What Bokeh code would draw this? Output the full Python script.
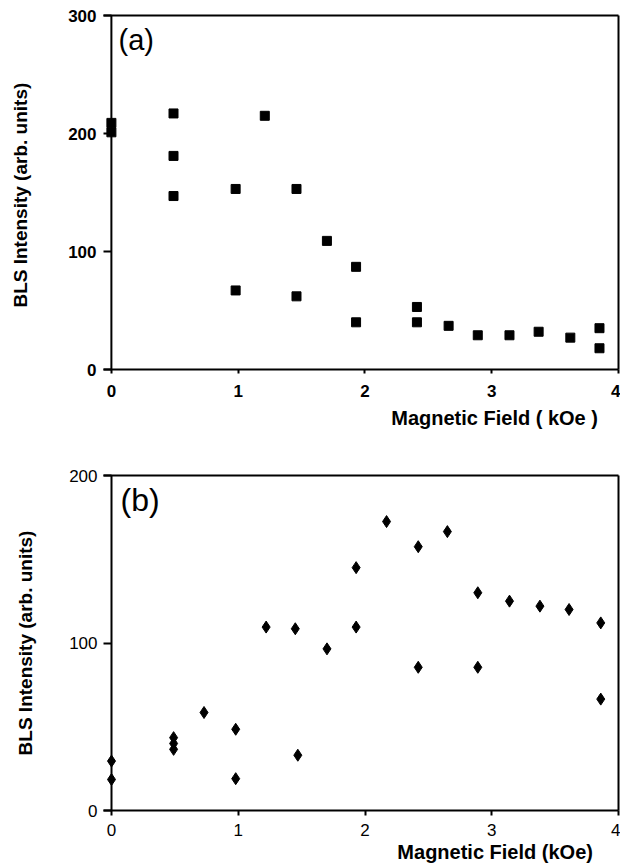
from bokeh.plotting import figure
from bokeh.models import FixedTicker, Label, Range1d, LinearAxis, Title, Span
from bokeh.layouts import column
from bokeh.embed import file_html
from bokeh.resources import INLINE

# ---------------- data ----------------
# Panel (a): BLS intensity vs magnetic field (squares)
field_a = [0.0, 0.0, 0.49, 0.49, 0.49, 0.98, 0.98, 1.21, 1.46, 1.46, 1.70,
           1.93, 1.93, 2.41, 2.41, 2.66, 2.89, 3.14, 3.37, 3.62, 3.85, 3.85]
intensity_a = [209, 201, 217, 181, 147, 153, 67, 215, 153, 62, 109,
               87, 40, 53, 40, 37, 29, 29, 32, 27, 35, 18]

# Panel (b): BLS intensity vs magnetic field (diamonds)
field_b = [0.0, 0.0, 0.49, 0.49, 0.49, 0.73, 0.98, 0.98, 1.22, 1.45, 1.47,
           1.70, 1.93, 1.93, 2.17, 2.42, 2.42, 2.65, 2.89, 2.89, 3.14, 3.38,
           3.61, 3.86, 3.86]
intensity_b = [29.5, 18.5, 43.5, 40, 36.5, 58.5, 48.5, 19, 109.5, 108.5, 33,
               96.5, 145, 109.5, 172.5, 157.5, 85.5, 166.5, 130, 85.5, 125, 122,
               120, 112, 66.5]

x_ticks = [0, 1, 2, 3, 4]
y_ticks_a = [0, 100, 200, 300]
y_ticks_b = [0, 100, 200]

x_title_a = "Magnetic Field  ( kOe )"
x_title_b = "Magnetic Field  (kOe)"
y_title_a = "BLS Intensity  (arb. units)"
y_title_b = "BLS Intensity (arb. units)"

FONT = "Liberation Sans"


def frame_axis(p, side):
    ax = LinearAxis(ticker=FixedTicker(ticks=[], minor_ticks=[]))
    ax.axis_line_width = 2
    ax.axis_line_color = "black"
    ax.major_tick_in = 0
    ax.major_tick_out = 0
    ax.minor_tick_in = 0
    ax.minor_tick_out = 0
    ax.major_label_standoff = 0
    p.add_layout(ax, side)


def style(p, xticks, yticks, ytitle, ytitle_standoff, ytick_len, ylab_standoff,
          xtick_out, xlab_standoff, tick_style):
    p.grid.visible = False
    p.outline_line_color = None
    p.background_fill_color = "white"
    p.border_fill_color = "white"
    xa = p.below[0]
    ya = p.left[0]
    for ax in (xa, ya):
        ax.axis_line_width = 2
        ax.axis_line_color = "black"
        ax.major_tick_line_width = 2
        ax.major_tick_line_color = "black"
        ax.major_tick_in = 0
        ax.minor_tick_in = 0
        ax.minor_tick_out = 0
        ax.major_label_text_font = FONT
        ax.major_label_text_font_size = "17px"
        ax.major_label_text_font_style = tick_style
        ax.major_label_text_color = "black"
        ax.axis_label_text_font = FONT
        ax.axis_label_text_font_size = "19px"
        ax.axis_label_text_font_style = "bold"
        ax.axis_label_text_color = "black"
    xa.ticker = FixedTicker(ticks=xticks, minor_ticks=[])
    ya.ticker = FixedTicker(ticks=yticks, minor_ticks=[])
    # y axis sits at the (padded) frame edge; its ticks reach in to x = 0
    ya.axis_line_color = None
    ya.major_tick_out = 0
    ya.major_tick_in = ytick_len
    ya.major_label_standoff = ylab_standoff
    ya.axis_label = ytitle
    ya.axis_label_standoff = ytitle_standoff
    xa.major_tick_out = xtick_out
    xa.major_label_standoff = xlab_standoff
    frame_axis(p, "above")
    frame_axis(p, "right")
    # visible vertical axis line at x = 0
    p.add_layout(Span(location=0, dimension="height", line_color="black", line_width=2))


# ---------------- panel (a) ----------------
pad_a = 8 / 128.5
pa = figure(width=620, height=448, x_range=Range1d(-pad_a, 4), y_range=Range1d(0, 300),
            output_backend="svg", toolbar_location=None,
            min_border_left=97, min_border_right=1, min_border_top=15, min_border_bottom=79)
style(pa, x_ticks, y_ticks_a, y_title_a, 34, 8, 7, 4, 11, "bold")
pa.scatter(field_a, intensity_a, marker="square", size=9, color="black")
pa.add_layout(Title(text=x_title_a, align="right", offset=15, standoff=10,
                    text_font=FONT, text_font_size="20px", text_font_style="bold",
                    text_color="black"), "below")
pa.add_layout(Label(x=15, y=346, x_units="screen", y_units="screen", text="(a)",
                    text_align="left", text_baseline="top", text_font=FONT,
                    text_font_size="29px", text_color="black"))

# ---------------- panel (b) ----------------
pad_b = 8 / 126.75
pb = figure(width=620, height=417, x_range=Range1d(-pad_b, 4), y_range=Range1d(0, 200),
            output_backend="svg", toolbar_location=None,
            min_border_left=103, min_border_right=2, min_border_top=27, min_border_bottom=55)
style(pb, x_ticks, y_ticks_b, y_title_b, 30, 8, 6, 5, 8, "normal")
pb.scatter(field_b, intensity_b, marker="diamond", size=12, color="black")
pb.add_layout(Title(text=x_title_b, align="right", offset=20, standoff=0,
                    text_font=FONT, text_font_size="20px", text_font_style="bold",
                    text_color="black"), "below")
pb.add_layout(Label(x=17, y=329, x_units="screen", y_units="screen", text="(b)",
                    text_align="left", text_baseline="top", text_font=FONT,
                    text_font_size="32px", text_color="black"))

layout = column(pa, pb, spacing=0)
open("out.html", "w").write(file_html(layout, INLINE))
